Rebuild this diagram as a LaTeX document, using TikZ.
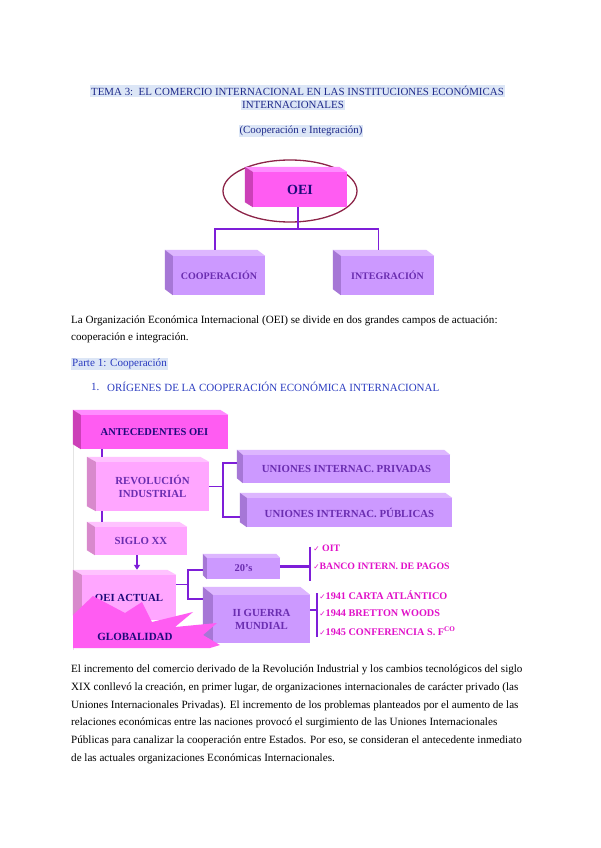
\documentclass[tikz,border=0pt]{standalone}
\usepackage{fontspec}
\setmainfont{Liberation Serif}
\newfontfamily\simbolos{DejaVu Sans}
\usetikzlibrary{arrows.meta,positioning,calc}
\definecolor{titulo}{HTML}{1F2A8A}
\definecolor{resalte}{HTML}{DCE6F6}
\definecolor{azul}{HTML}{2B3CC0}
\definecolor{marino}{HTML}{1C0A7A}
\definecolor{violeta}{HTML}{6A2DB0}
\definecolor{trazo}{HTML}{7E1ED8}
\definecolor{fucsia}{HTML}{FF5CF2}
\definecolor{fucsiatop}{HTML}{FF8CFF}
\definecolor{fucsialado}{HTML}{CC40B8}
\definecolor{rosa}{HTML}{FFA6FF}
\definecolor{rosatop}{HTML}{FFC2FF}
\definecolor{rosalado}{HTML}{D889CC}
\definecolor{lila}{HTML}{CC99FF}
\definecolor{lilatop}{HTML}{DDB6FF}
\definecolor{lilalado}{HTML}{A677D6}
\definecolor{item}{HTML}{E010C8}
\definecolor{elipse}{HTML}{8C2448}
\definecolor{marco}{HTML}{E4E4E4}
\tikzset{
  caja/.style={inner sep=0pt,align=center,font=\bfseries\fontsize{10.8}{13}\selectfont},
  linea/.style={draw=trazo,line width=1.6pt},
  llave/.style={draw=trazo,line width=2.2pt},
  textolinea/.style={inner sep=0pt,align=left,font=\fontsize{11.1}{17}\selectfont},
  vineta/.style={anchor=west,inner sep=0pt,text=item,font=\bfseries\fontsize{10.2}{11}\selectfont}
}
% top and left faces of a 3-D box: node, top colour, side colour, dx, dy
\newcommand{\relieve}[5]{%
  \fill[#2] (#1.north west) -- ($(#1.north west)+(-#4,-#5)$) -- ($(#1.north east)+(-#4,-#5)$) -- (#1.north east) -- cycle;
  \fill[#3] (#1.north west) -- ($(#1.north west)+(-#4,-#5)$) -- ($(#1.south west)+(-#4,-#5)$) -- (#1.south west) -- cycle;
}
\newcommand{\visto}{{\simbolos\fontsize{7.5}{8}\selectfont ✓}}

\begin{document}
\begin{tikzpicture}[x=1pt,y=-1pt]
\useasboundingbox[fill=white] (0,0) rectangle (600,848);

% headings
\node[fill=resalte,inner sep=1pt,text=titulo,font=\fontsize{10.9}{12}\selectfont] (tema) at (297.5,91) {TEMA 3:\ \ EL COMERCIO INTERNACIONAL EN LAS INSTITUCIONES ECONÓMICAS};
\node[fill=resalte,inner sep=1pt,text=titulo,font=\fontsize{10.9}{12}\selectfont] (tema2) at (293,105) {INTERNACIONALES};
\node[fill=resalte,inner sep=1pt,text=titulo,font=\fontsize{10.9}{12}\selectfont] (sub) at (301,131) {(Cooperación e Integración)};

% OEI tree
\draw[elipse,line width=1.3pt] (290,191) ellipse [x radius=67,y radius=31];
\node[caja,fill=fucsia,text=marino,minimum width=94pt,minimum height=35pt,font=\bfseries\fontsize{14}{16}\selectfont] (oei) at (300,189.5) {OEI};
\relieve{oei}{fucsiatop}{fucsialado}{8}{5}
\node[caja,fill=lila,text=violeta,minimum width=92pt,minimum height=39pt,font=\bfseries\fontsize{10}{11}\selectfont] (coop) at (219,275.5) {COOPERACIÓN};
\relieve{coop}{lilatop}{lilalado}{8}{6}
\node[caja,fill=lila,text=violeta,minimum width=93pt,minimum height=39pt,font=\bfseries\fontsize{10}{11}\selectfont] (inte) at (387.5,275.5) {INTEGRACIÓN};
\relieve{inte}{lilatop}{lilalado}{8}{6}
\draw[linea] ($(oei.south)+(-2,0)$) -- ++(0,22) coordinate (oeiy);
\draw[linea] ($(coop.north)+(-4,-6)$) |- (oeiy) -| ($(inte.north)+(-9,-6)$);

% text
\node[textolinea,anchor=north west] (parrafo1) at (71,316) {La Organización Económica Internacional (OEI) se divide en dos grandes campos de actuación:\\cooperación e integración.};
\node[fill=resalte,inner sep=1pt,text=azul,font=\fontsize{11.1}{12}\selectfont,anchor=west] (parte) at (71,364) {Parte 1: Cooperación};
\node[text=azul,inner sep=0pt,font=\fontsize{11}{12}\selectfont,anchor=west] (num) at (91,387) {1.};
\node[text=azul,inner sep=0pt,font=\fontsize{11}{12}\selectfont,anchor=west] (origen) at (107,387) {ORÍGENES DE LA COOPERACIÓN ECONÓMICA INTERNACIONAL};

% antecedentes chart
\draw[marco,line width=0.8pt] (73,412) -- (73,650);
\node[caja,fill=fucsia,text=marino,minimum width=147pt,minimum height=34pt,font=\bfseries\fontsize{10.5}{13}\selectfont] (antec) at (154.5,432) {ANTECEDENTES OEI};
\relieve{antec}{fucsiatop}{fucsialado}{8}{5}
\node[caja,fill=rosa,text=violeta,minimum width=113pt,minimum height=49pt] (revol) at (152.5,486.5) {REVOLUCIÓN\\INDUSTRIAL};
\relieve{revol}{rosatop}{rosalado}{9}{5}
\node[caja,fill=lila,text=violeta,minimum width=207pt,minimum height=28pt] (priv) at (346.5,469) {UNIONES INTERNAC. PRIVADAS};
\relieve{priv}{lilatop}{lilalado}{6}{5}
\node[caja,fill=lila,text=violeta,minimum width=205pt,minimum height=29pt] (publ) at (349.5,512.5) {UNIONES INTERNAC. PÚBLICAS};
\relieve{publ}{lilatop}{lilalado}{7}{5}
\node[caja,fill=rosa,text=violeta,minimum width=92pt,minimum height=28pt] (siglo) at (141,541) {SIGLO XX};
\relieve{siglo}{rosatop}{rosalado}{8}{5}
\node[caja,fill=rosa,text=marino,minimum width=94pt,minimum height=45pt] (actual) at (129,597.5) {OEI ACTUAL};
\relieve{actual}{rosatop}{rosalado}{9}{5}
\node[caja,fill=lila,text=violeta,minimum width=73pt,minimum height=21pt,font=\bfseries\fontsize{10.5}{11}\selectfont] (veinte) at (243.5,568.5) {20's};
\relieve{veinte}{lilatop}{lilalado}{4}{4}
\node[caja,fill=lila,text=violeta,minimum width=97pt,minimum height=48pt] (guerra) at (261.5,619) {II GUERRA\\MUNDIAL};
\relieve{guerra}{lilatop}{lilalado}{10}{8}

\draw[linea] ($(antec.south west)+(21,0)$) -- ($(revol.north west)+(6,-5)$);
\draw[linea] ($(revol.south west)+(6,0)$) -- ($(siglo.north west)+(7,-5)$);
\draw[linea] (revol.east) -- ++(14,0) coordinate (rj);
\draw[linea] ($(priv.west)+(-6,-6)$) -| (rj) |- ($(publ.west)+(-7,4.5)$);
\draw[linea,-{Triangle[length=5pt,width=6pt]}] ($(siglo.south)+(-4,0)$) -- ($(actual.north)+(8,-5)$);
\draw[linea] ($(actual.east)+(0,-13)$) -- ++(12,0) coordinate (aj);
\draw[linea] ($(veinte.west)+(-4,1.5)$) -| (aj) |- ($(guerra.west)+(-10,-20)$);

% globalidad
\fill[fucsia] (73,615) -- (93,596) -- (125,613) -- (142,602) -- (152,622) -- (193,612) -- (175,627) -- (217,623) -- (203,635) -- (220,645) -- (210,648) -- (73,648) -- cycle;
\node[caja,text=marino,font=\bfseries\fontsize{11}{13}\selectfont] (glob) at (135,637) {GLOBALIDAD};

% lists
\draw[llave] ($(veinte.east)+(0,-2)$) -- ++(30,0) coordinate (vj);
\draw[llave] ($(vj)+(0,-20)$) -- ($(vj)+(0,14)$);
\node[vineta,font=\bfseries\fontsize{9.8}{10}\selectfont] (oit) at ($(vj)+(3,-18.5)$) {\visto\ OIT};
\node[vineta,font=\bfseries\fontsize{9.8}{10}\selectfont] (banco) at ($(vj)+(3,0)$) {\visto BANCO INTERN. DE PAGOS};
\draw[llave] ($(guerra.east)+(0,-9)$) -- ++(7,0) coordinate (gj);
\draw[llave] ($(gj)+(0,-17)$) -- ($(gj)+(0,27)$);
\node[vineta] (carta) at ($(gj)+(2,-15)$) {\visto1941 CARTA ATLÁNTICO};
\node[vineta] (bretton) at ($(gj)+(2,3)$) {\visto1944 BRETTON WOODS};
\node[vineta] (confe) at ($(gj)+(2,21)$) {\visto1945 CONFERENCIA S. F\textsuperscript{CO}};

\node[textolinea,anchor=north west,font=\fontsize{11.1}{17.8}\selectfont] (parrafo2) at (71,664.5) {El incremento del comercio derivado de la Revolución Industrial y los cambios tecnológicos del siglo\\XIX conllevó la creación, en primer lugar, de organizaciones internacionales de carácter privado (las\\Uniones Internacionales Privadas). El incremento de los problemas planteados por el aumento de las\\relaciones económicas entre las naciones provocó el surgimiento de las Uniones Internacionales\\Públicas para canalizar la cooperación entre Estados. Por eso, se consideran el antecedente inmediato\\de las actuales organizaciones Económicas Internacionales.};
\end{tikzpicture}
\end{document}
